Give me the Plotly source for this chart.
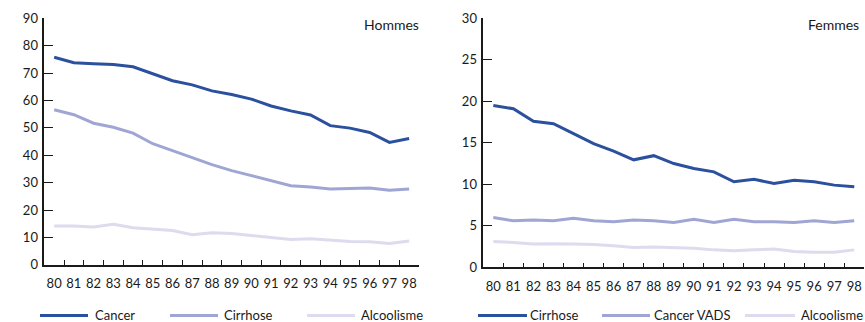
import plotly.graph_objects as go

years = ["80", "81", "82", "83", "84", "85", "86", "87", "88", "89",
         "90", "91", "92", "93", "94", "95", "96", "97", "98"]

# Hommes
hommes_cancer = [75.8, 73.8, 73.4, 73.1, 72.3, 69.7, 67.2, 65.7, 63.5, 62.2,
                 60.5, 58.0, 56.2, 54.7, 50.8, 49.9, 48.3, 44.7, 46.1]
hommes_cirrhose = [56.6, 54.8, 51.7, 50.2, 48.1, 44.2, 41.7, 39.2, 36.6, 34.4,
                   32.5, 30.8, 28.9, 28.4, 27.7, 27.9, 28.0, 27.2, 27.7]
hommes_alcoolisme = [14.2, 14.2, 13.8, 14.8, 13.5, 13.1, 12.5, 11.0, 11.7, 11.4,
                     10.7, 9.9, 9.2, 9.5, 9.1, 8.5, 8.4, 7.8, 8.7]

# Femmes
femmes_cirrhose = [19.5, 19.1, 17.6, 17.3, 16.1, 14.9, 14.0, 12.95, 13.45, 12.5,
                   11.9, 11.5, 10.3, 10.6, 10.1, 10.5, 10.3, 9.9, 9.7]
femmes_cancer_vads = [6.0, 5.6, 5.7, 5.6, 5.9, 5.6, 5.5, 5.7, 5.6, 5.4,
                      5.8, 5.4, 5.8, 5.5, 5.5, 5.4, 5.6, 5.4, 5.6]
femmes_alcoolisme = [3.1, 3.0, 2.8, 2.85, 2.8, 2.75, 2.6, 2.4, 2.45, 2.4,
                     2.3, 2.1, 2.0, 2.1, 2.2, 1.9, 1.8, 1.8, 2.1]

hommes_ticks = [0, 10, 20, 30, 40, 50, 60, 70, 80, 90]
femmes_ticks = [0, 5, 10, 15, 20, 25, 30]

DARK = "#2b509e"
MID = "#a0a6d4"
LIGHT = "#dcdcee"
FONT = "Lato"
W, H = 865, 322

fig = go.Figure()

left_series = [("Cancer", hommes_cancer, DARK),
               ("Cirrhose", hommes_cirrhose, MID),
               ("Alcoolisme", hommes_alcoolisme, LIGHT)]
right_series = [("Cirrhose", femmes_cirrhose, DARK),
                ("Cancer VADS", femmes_cancer_vads, MID),
                ("Alcoolisme", femmes_alcoolisme, LIGHT)]

for name, vals, col in reversed(left_series):
    fig.add_trace(go.Scatter(x=years, y=vals, mode="lines", name=name,
                             line=dict(color=col, width=3),
                             xaxis="x", yaxis="y", showlegend=False))
for name, vals, col in reversed(right_series):
    fig.add_trace(go.Scatter(x=years, y=vals, mode="lines", name=name,
                             line=dict(color=col, width=3),
                             xaxis="x2", yaxis="y2", showlegend=False))

axis_common = dict(showline=True, linecolor="#1a1a1a", linewidth=1.5,
                   showgrid=False, zeroline=False, automargin=False,
                   tickfont=dict(family=FONT, size=13, color="#1a1a1a"))

fig.update_layout(
    width=W, height=H,
    margin=dict(l=0, r=0, t=0, b=0, pad=0),
    paper_bgcolor="white", plot_bgcolor="white",
    font=dict(family=FONT, size=13, color="#1a1a1a"),
    xaxis=dict(domain=[44.3 / W, 419 / W], type="category", tickson="boundaries",
               ticks="inside", ticklen=5, tickwidth=1.3, tickcolor="#1a1a1a",
               tickangle=0, anchor="y", range=[-0.5, 18.5], ticklabelstandoff=6,
               **axis_common),
    yaxis=dict(domain=[(H - 264.8) / H, (H - 18.3) / H], range=[0, 90],
               tickvals=hommes_ticks, ticks="inside", ticklen=9, tickwidth=1.3,
               tickcolor="#1a1a1a", anchor="x", ticklabelstandoff=2, **axis_common),
    xaxis2=dict(domain=[483.3 / W, 864.3 / W], type="category", tickson="boundaries",
                ticks="inside", ticklen=5, tickwidth=1.3, tickcolor="#1a1a1a",
                tickangle=0, anchor="y2", range=[-0.5, 18.5], ticklabelstandoff=6,
                **axis_common),
    yaxis2=dict(domain=[(H - 267.3) / H, (H - 18.3) / H], range=[0, 30],
                tickvals=femmes_ticks, ticks="inside", ticklen=9, tickwidth=1.3,
                tickcolor="#1a1a1a", anchor="x2", ticklabelstandoff=2, **axis_common),
)

annotations = [
    dict(text="Hommes", x=421 / W, y=(H - 24) / H, xref="paper", yref="paper",
         xanchor="right", yanchor="middle", showarrow=False,
         font=dict(family=FONT, size=14, color="#1a1a1a")),
    dict(text="Femmes", x=861 / W, y=(H - 24) / H, xref="paper", yref="paper",
         xanchor="right", yanchor="middle", showarrow=False,
         font=dict(family=FONT, size=14, color="#1a1a1a")),
]
shapes = []

ly = (H - 315.5) / H
left_leg = [(40, 88, 94), (170, 218, 223), (307, 355, 360)]
right_leg = [(478, 527, 529), (602, 650, 653), (745, 795, 800)]
for (name, _, col), (x0, x1, tx) in list(zip(left_series, left_leg)) + list(zip(right_series, right_leg)):
    shapes.append(dict(type="line", xref="paper", yref="paper",
                       x0=x0 / W, x1=x1 / W, y0=ly, y1=ly,
                       line=dict(color=col, width=3)))
    annotations.append(dict(text=name, x=tx / W, y=(H - 314.5) / H,
                            xref="paper", yref="paper",
                            xanchor="left", yanchor="middle", showarrow=False,
                            borderpad=0,
                            font=dict(family=FONT, size=13, color="#1a1a1a")))

fig.update_layout(annotations=annotations, shapes=shapes)

fig.write_html(
    "out.html",
    config={"displayModeBar": False},
    post_script="document.body.style.margin='0';document.body.style.overflow='hidden';",
)
